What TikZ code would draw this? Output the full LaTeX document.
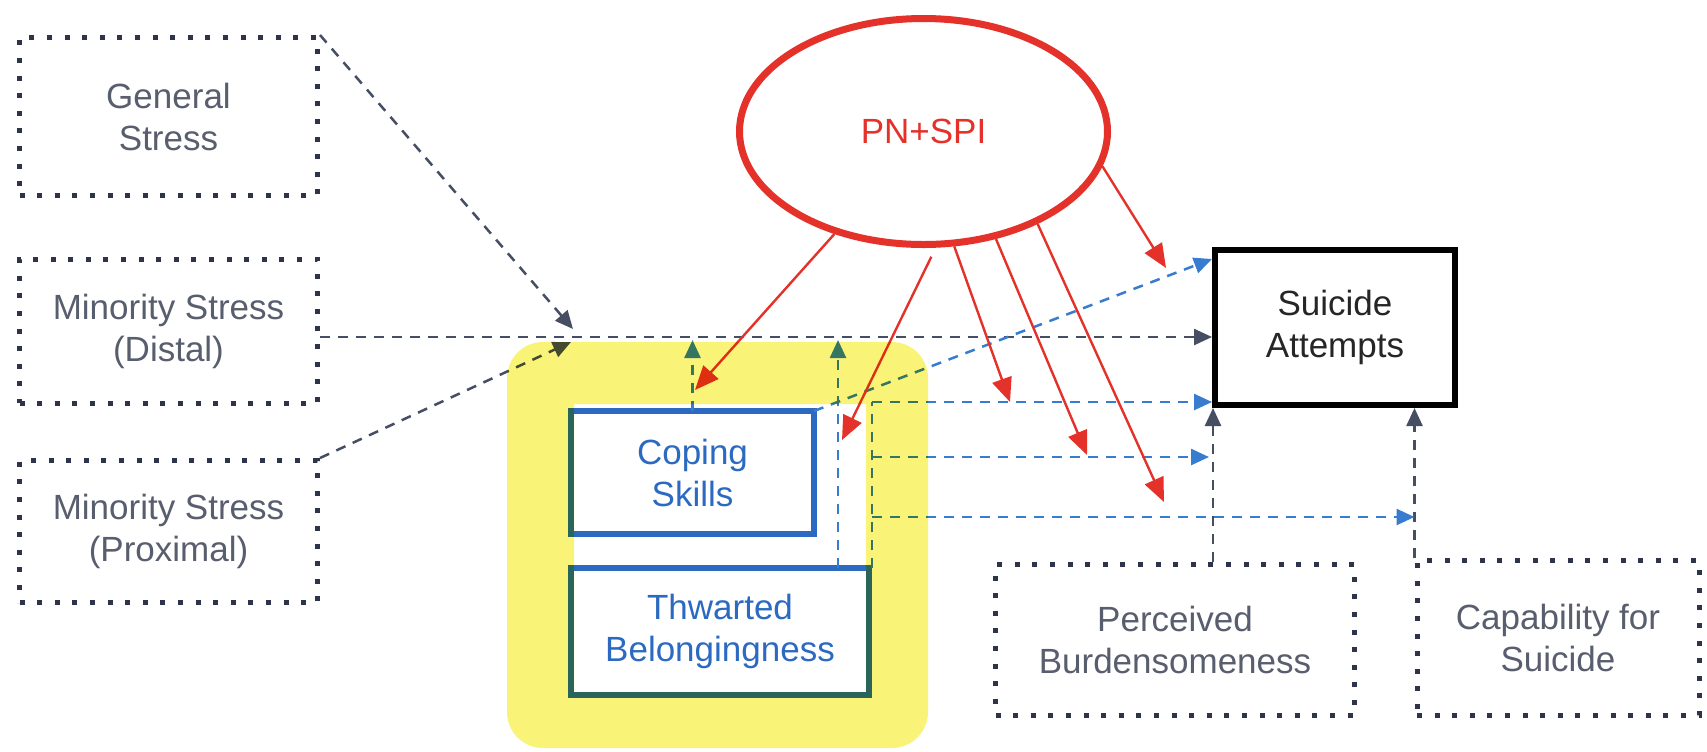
\documentclass[tikz,border=0pt]{standalone}
\usepackage{fontspec}
\setmainfont{Liberation Sans}
\usetikzlibrary{shapes.geometric,arrows.meta,calc}
\definecolor{navy}{RGB}{46,52,74}
\definecolor{boxtext}{RGB}{88,94,110}
\definecolor{gline}{RGB}{70,78,100}
\definecolor{redc}{RGB}{228,50,42}
\definecolor{bluec}{RGB}{44,106,194}
\definecolor{bline}{RGB}{56,124,208}
\definecolor{hl}{RGB}{249,244,120}
\tikzset{
  lbl/.style={align=center, font=\fontsize{17.5}{21}\selectfont, inner sep=0pt},
  dotbox/.style={lbl, draw=navy, line width=2.5pt, dash pattern=on 2.5pt off 6.3pt, text=boxtext},
  bluebox/.style={lbl, draw=bluec, line width=3pt, text=bluec, fill=white, outer sep=0pt},
  sabox/.style={lbl, draw=black, line width=3pt, text=black!85},
  gdash/.style={draw=gline, line width=1.25pt, dash pattern=on 5pt off 4pt, -{Triangle[length=9pt,width=8pt]}},
  bdash/.style={draw=bline, line width=1.25pt, dash pattern=on 5pt off 4pt},
  barrow/.style={bdash, -{Triangle[length=9pt,width=8pt]}},
  redarrow/.style={draw=redc, line width=1.2pt, -{Triangle[length=12pt,width=10pt]}},
}
\begin{document}
\begin{tikzpicture}[x=0.5pt,y=-0.5pt]
\useasboundingbox (0,0) rectangle (1707,751);
\fill[white] (0,0) rectangle (1707,751);

% boxes
\node[dotbox, minimum width=149pt, minimum height=79pt] (gen) at (168.5,116.5) {General\\Stress};
\node[dotbox, minimum width=149pt, minimum height=72pt] (dist) at (168.5,331) {Minority Stress\\(Distal)};
\node[dotbox, minimum width=149pt, minimum height=71pt] (prox) at (168.5,531.5) {Minority Stress\\(Proximal)};
\node[dotbox, minimum width=179.5pt, minimum height=75.5pt] (pb) at (1175,640) {Perceived\\Burdensomeness};
\node[dotbox, minimum width=141pt, minimum height=77.5pt] (cap) at (1558,638) {Capability for\\Suicide};
\node[sabox, minimum width=120pt, minimum height=77.5pt] (sa) at (1335,327.5) {Suicide\\Attempts};
\node[lbl, ellipse, draw=redc, line width=3.5pt, text=redc, minimum width=184pt, minimum height=113pt] (pn) at (923.5,131.5) {PN+SPI};
\node[bluebox, minimum width=121.5pt, minimum height=61.5pt] (cop) at (692.5,472.5) {Coping\\Skills};
\node[bluebox, minimum width=149pt, minimum height=63.5pt] (thw) at (720,631.5) {Thwarted\\Belongingness};

% grey dashed paths
\coordinate (mline) at (0,337);
\coordinate (mg) at (573,329);
\coordinate (mp) at (571,342);
\draw[gdash] (dist.east |- mline) -- (sa.west |- mline);
\draw[gdash] (gen.north east) -- (mg);
\draw[gdash] (prox.north east) -- (mp);

\coordinate (pbx) at (1213,0);
\draw[gdash] (pb.north -| pbx) -- (sa.south -| pbx);
\draw[gdash] (cap.north west) -- (cap.north west |- sa.south);

% blue dashed paths
\coordinate (cu) at (692.5,340);
\coordinate (tu) at (838,340);
\draw[barrow] (cop.north) -- (cu);
\draw[barrow] (thw.north -| tu) -- (tu);
\draw[barrow] (cop.north east) -- ($(sa.north west)+(0,12)$);
\coordinate (b1) at (872,402);
\coordinate (b2) at (872,457);
\coordinate (b3) at (872,517);
\draw[bdash] (b1 |- thw.north) -- (b1);
\draw[barrow] (b1) -- (sa.west |- b1);
\draw[barrow, shorten >=2pt] (b2) -- (pbx |- b2);
\draw[barrow] (b3) -- (cap.north west |- b3);

% red arrows
\coordinate (ra) at (695,390);
\coordinate (rb) at (842,440);
\coordinate (rc) at (1010,402);
\coordinate (rd) at (1087,455);
\coordinate (re) at (1164,502);
\coordinate (rf) at (1166,268);
\draw[redarrow] (pn.229) -- (ra);
\draw[redarrow, shorten <=5pt] (pn.276) -- (rb);
\draw[redarrow] (pn.285) -- (rc);
\draw[redarrow] (pn.304) -- (rd);
\draw[redarrow] (pn.321) -- (re);
\draw[redarrow] (pn.349) -- (rf);

% highlighter
\fill[hl, blend mode=multiply, even odd rule, rounded corners=18pt]
  (507,520) -- (507,342) -- (928,342) -- (928,748) -- (507,748) -- cycle
  [sharp corners] (574,404) rectangle (866,692);
\end{tikzpicture}
\end{document}
